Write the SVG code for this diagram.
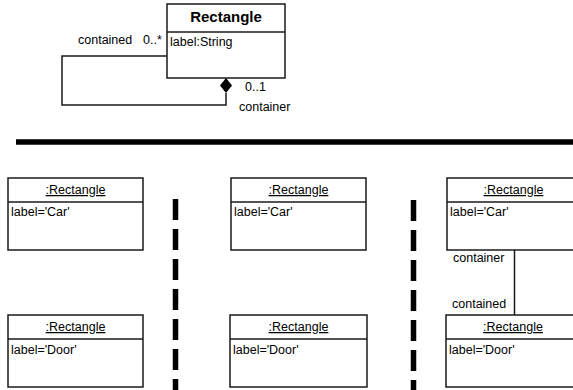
<svg xmlns="http://www.w3.org/2000/svg" width="573" height="390" viewBox="0 0 573 390">
<style>
.box{fill:#fff;stroke:#1a1a1a;stroke-width:1.5}
.div{stroke:#1a1a1a;stroke-width:1.5}
text{font-family:"Liberation Sans",Arial,sans-serif;font-size:12.5px;fill:#000}
.title{font-size:15px;font-weight:bold}
.u{text-decoration:underline}
.ln{fill:none;stroke:#1a1a1a;stroke-width:1.5}
.sep{fill:none;stroke:#000;stroke-width:5.5;stroke-dasharray:21 9}
</style>
<rect width="573" height="390" fill="#fff"/>
<g id="class-rectangle">
<rect class="box" x="167" y="4" width="118" height="74"/>
<line class="div" x1="167" y1="32" x2="285" y2="32"/>
<text class="title" x="226" y="22" text-anchor="middle">Rectangle</text>
<text x="170" y="46">label:String</text>
</g>
<g id="connectors">
<path class="ln" d="M167,56 H62 V105 H226 V93"/>
<polygon points="226,78 232,85.5 226,93 220,85.5" fill="#000"/>
<text x="78" y="44">contained</text>
<text x="143" y="44">0..*</text>
<text x="245" y="91">0..1</text>
<text x="239" y="111">container</text>
<line class="ln" x1="514.5" y1="250" x2="514.5" y2="315"/>
<text x="453" y="262">container</text>
<text x="452" y="308">contained</text>
</g>
<g id="separators">
<line x1="16" y1="142" x2="573" y2="142" stroke="#000" stroke-width="5.5"/>
<line class="sep" x1="175.5" y1="199" x2="175.5" y2="390"/>
<line class="sep" x1="413.5" y1="200" x2="413.5" y2="390"/>
</g>
<g id="car1">
<rect class="box" x="8" y="178" width="135" height="72"/>
<line class="div" x1="8" y1="202" x2="143" y2="202"/>
<text class="u" x="75.5" y="194" text-anchor="middle">:Rectangle</text>
<text x="11" y="216">label='Car'</text>
</g>
<g id="door1">
<rect class="box" x="8" y="315" width="135" height="72"/>
<line class="div" x1="8" y1="339" x2="143" y2="339"/>
<text class="u" x="75.5" y="331" text-anchor="middle">:Rectangle</text>
<text x="11" y="354">label='Door'</text>
</g>
<g id="car2">
<rect class="box" x="231" y="178" width="135" height="72"/>
<line class="div" x1="231" y1="202" x2="366" y2="202"/>
<text class="u" x="298.5" y="194" text-anchor="middle">:Rectangle</text>
<text x="234" y="216">label='Car'</text>
</g>
<g id="door2">
<rect class="box" x="230" y="315" width="137" height="72"/>
<line class="div" x1="230" y1="339" x2="367" y2="339"/>
<text class="u" x="298.5" y="331" text-anchor="middle">:Rectangle</text>
<text x="233" y="354">label='Door'</text>
</g>
<g id="car3">
<rect class="box" x="447" y="178" width="133" height="72"/>
<line class="div" x1="447" y1="202" x2="580" y2="202"/>
<text class="u" x="513.5" y="194" text-anchor="middle">:Rectangle</text>
<text x="450" y="216">label='Car'</text>
</g>
<g id="door3">
<rect class="box" x="446" y="315" width="134" height="72"/>
<line class="div" x1="446" y1="339" x2="580" y2="339"/>
<text class="u" x="513" y="331" text-anchor="middle">:Rectangle</text>
<text x="449" y="354">label='Door'</text>
</g>
</svg>
